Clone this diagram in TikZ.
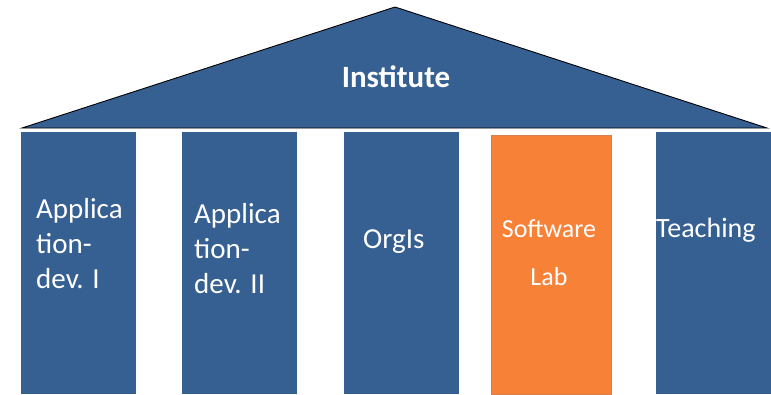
\documentclass[tikz,border=0pt]{standalone}
\usepackage{fontspec}
\setmainfont{Carlito}
\definecolor{pcol}{RGB}{55,96,146}
\definecolor{ocol}{RGB}{248,129,56}
\tikzset{every picture/.style={x=1pt,y=-1pt}}
\tikzset{pillar/.style={fill=pcol,draw=none,anchor=north west,minimum width=115,minimum height=262,inner sep=0pt}}
\tikzset{roof/.style={fill=pcol,draw=black,line width=0.9pt,line join=miter}}
\tikzset{ptext/.style={text=white,inner sep=0pt,align=left,font=\fontsize{29}{35}\selectfont}}

\begin{document}
\begin{tikzpicture}
\useasboundingbox (0,0) rectangle (771,394);
\coordinate (rl) at (22,128);
\coordinate (rt) at (395,7);
\coordinate (rr) at (767,128);
\draw [roof] (rl) -- (rt) -- (rr) -- cycle;
\node [text=white,font=\bfseries\fontsize{31}{36}\selectfont,anchor=base] (inst) at (396,87) {Institute};

\node [pillar] (p1) at (21,132) {};
\node [pillar] (p2) at (182,132) {};
\node [pillar] (p3) at (344,132) {};
\node [pillar,fill=ocol,draw=ocol!70!gray,minimum width=120,minimum height=259] (p4) at (491,135) {};
\node [pillar] (p5) at (656,132) {};

\node [ptext,anchor=base west] (t1) at (36,288) {Applica\\tion-\\dev. I};
\node [ptext,anchor=base west] (t2) at (194,293) {Applica\\tion-\\dev. II};
\node [ptext,anchor=base west] (t3) at (363,248) {OrgIs};
\node [ptext,align=center,anchor=base,font=\fontsize{26}{48}\selectfont] (t4) at (549,285) {Software\\Lab};
\node [ptext,anchor=base west,font=\fontsize{28}{34}\selectfont] (t5) at (656,237) {Teaching};
\end{tikzpicture}
\end{document}
